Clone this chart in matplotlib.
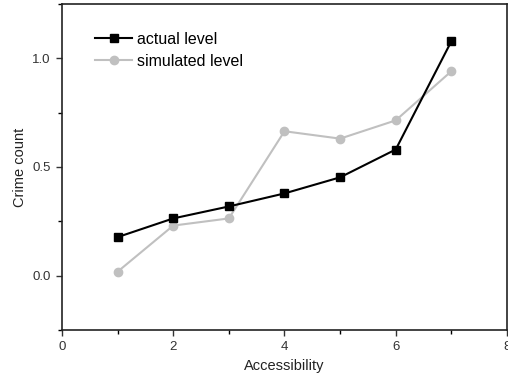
import matplotlib
matplotlib.use('Agg')
import matplotlib.pyplot as plt
from matplotlib.ticker import MultipleLocator

plt.rcParams['font.family'] = ['Liberation Sans', 'DejaVu Sans']

# data
accessibility = [1, 2, 3, 4, 5, 6, 7]
actual_level = [0.177, 0.263, 0.318, 0.378, 0.452, 0.58, 1.078]
simulated_level = [0.018, 0.23, 0.263, 0.664, 0.63, 0.714, 0.94]

fig = plt.figure(figsize=(5.08, 3.85), dpi=100)
ax = fig.add_axes([0.122, 0.143, 0.876, 0.847])

ax.plot(accessibility, actual_level, color='black', lw=1.5, marker='s',
        markersize=5.5, label='actual level', zorder=3)
ax.plot(accessibility, simulated_level, color='#c0c0c0', lw=1.5, marker='o',
        markersize=6, label='simulated level', zorder=2)

ax.set_xlim(0, 8)
ax.set_ylim(-0.25, 1.25)
ax.xaxis.set_major_locator(MultipleLocator(2))
ax.xaxis.set_minor_locator(MultipleLocator(1))
ax.yaxis.set_major_locator(MultipleLocator(0.5))
ax.yaxis.set_minor_locator(MultipleLocator(0.25))
ax.yaxis.set_major_formatter(matplotlib.ticker.FormatStrFormatter('%.1f'))
ax.tick_params(which='major', direction='out', length=4.5, width=1, labelsize=9.5,
               colors='#333333', labelcolor='#333333')
ax.tick_params(which='minor', direction='out', length=3, width=1)
for s in ax.spines.values():
    s.set_linewidth(1.2)
    s.set_color('#222222')

ax.set_xlabel('Accessibility', fontsize=10.5, color='#222222')
ax.set_ylabel('Crime count', fontsize=10.5, color='#222222')

leg = ax.legend(loc='upper left', frameon=False, fontsize=11.5, handlelength=2.3,
                handletextpad=0.3, labelspacing=0.45, borderaxespad=0, borderpad=0,
                bbox_to_anchor=(0.075, 0.915))

plt.savefig('out.png', dpi=100)
plt.close()
